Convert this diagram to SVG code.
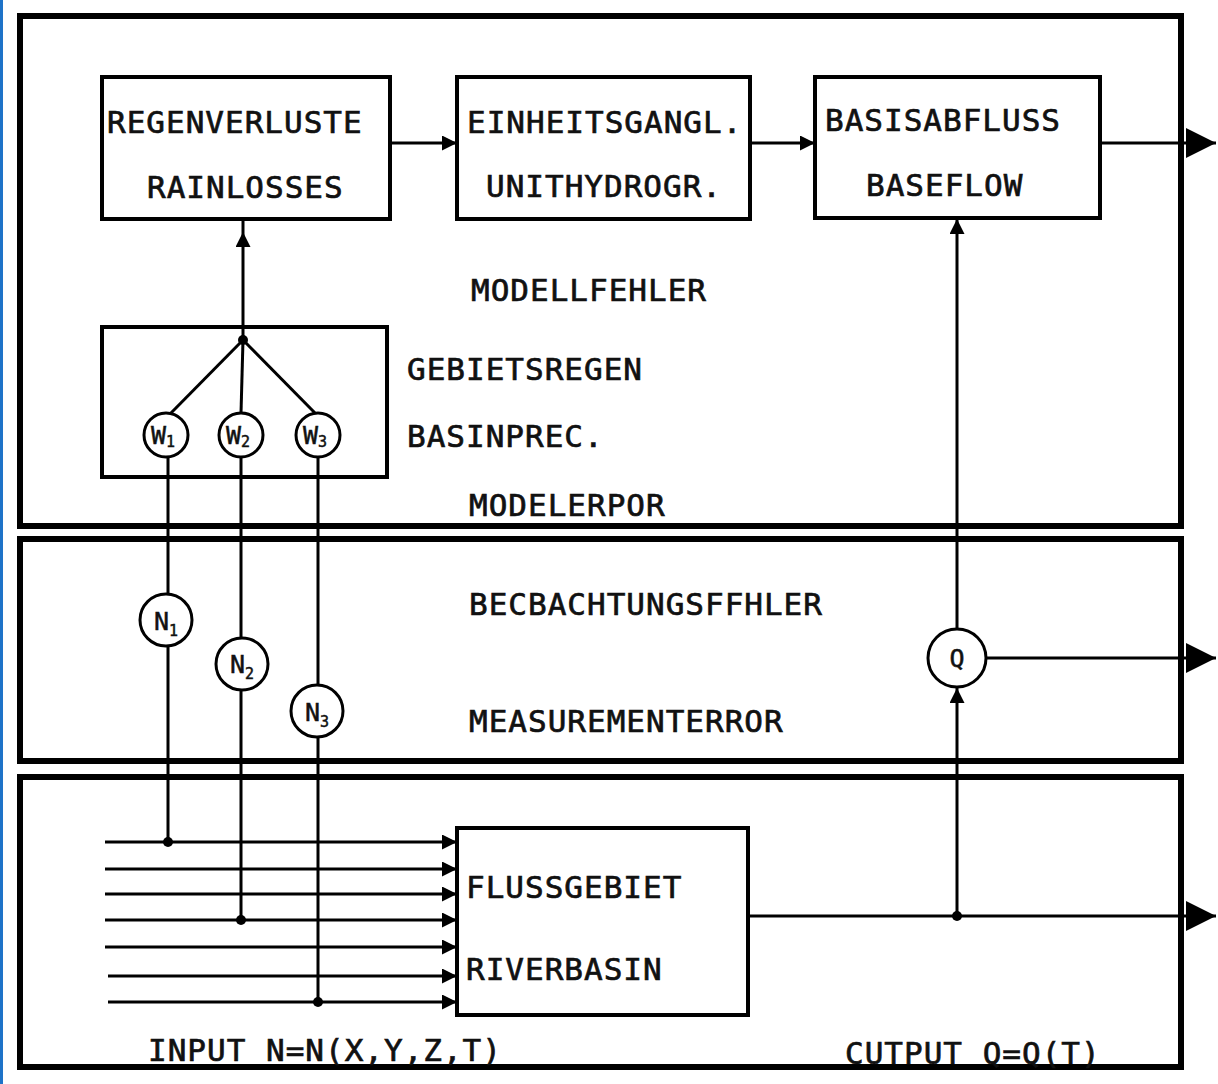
<svg xmlns="http://www.w3.org/2000/svg" width="1218" height="1084" viewBox="0 0 1218 1084">
<style>
.panel{fill:none;stroke:#000;stroke-width:6}
.box{fill:none;stroke:#000;stroke-width:4}
.ln{fill:none;stroke:#000;stroke-width:3}
.circ{fill:#fff;stroke:#000;stroke-width:3}
.t{font-family:"DejaVu Sans Mono","Liberation Mono",monospace;font-size:31px;fill:#111;stroke:#111;stroke-width:0.7;letter-spacing:1px}
.c{font-family:"DejaVu Sans Mono","Liberation Mono",monospace;font-size:25px;fill:#111;stroke:#111;stroke-width:0.5}
.s{font-size:15px}
</style>
<defs>
<marker id="ah" viewBox="0 0 10 10" refX="10" refY="5" markerWidth="7" markerHeight="5" markerUnits="strokeWidth" orient="auto"><path d="M0,0 L10,5 L0,10 z" fill="#000"/></marker>
<marker id="big" viewBox="0 0 10 10" refX="10" refY="5" markerWidth="10" markerHeight="10" markerUnits="strokeWidth" orient="auto"><path d="M0,0 L10,5 L0,10 z" fill="#000"/></marker>
</defs>
<rect x="0" y="0" width="1218" height="1084" fill="#fff"/>
<rect x="0" y="0" width="3" height="1084" fill="#1e73c8"/>
<g id="panels">
<rect class="panel" x="20" y="16" width="1161" height="510"/>
<rect class="panel" x="20" y="539" width="1161" height="222"/>
<rect class="panel" x="20" y="777" width="1161" height="290"/>
</g>
<g id="connectors">
<line class="ln" x1="390" y1="143" x2="457" y2="143" marker-end="url(#ah)"/>
<line class="ln" x1="750" y1="143" x2="815" y2="143" marker-end="url(#ah)"/>
<line class="ln" x1="1100" y1="143" x2="1216" y2="143" marker-end="url(#big)"/>
<line class="ln" x1="243" y1="340" x2="243" y2="232" marker-end="url(#ah)"/>
<line class="ln" x1="243" y1="232" x2="243" y2="219"/>
<line class="ln" x1="243" y1="340" x2="170" y2="414"/>
<line class="ln" x1="243" y1="340" x2="241" y2="413"/>
<line class="ln" x1="243" y1="340" x2="316" y2="414"/>
<circle cx="243" cy="340" r="5" fill="#000"/>
<line class="ln" x1="168" y1="457" x2="168" y2="842"/>
<line class="ln" x1="241" y1="457" x2="241" y2="920"/>
<line class="ln" x1="318" y1="457" x2="318" y2="1002"/>
<line class="ln" x1="105" y1="842" x2="457" y2="842" marker-end="url(#ah)"/>
<line class="ln" x1="105" y1="869" x2="457" y2="869" marker-end="url(#ah)"/>
<line class="ln" x1="105" y1="894" x2="457" y2="894" marker-end="url(#ah)"/>
<line class="ln" x1="105" y1="920" x2="457" y2="920" marker-end="url(#ah)"/>
<line class="ln" x1="105" y1="947" x2="457" y2="947" marker-end="url(#ah)"/>
<line class="ln" x1="108" y1="976" x2="457" y2="976" marker-end="url(#ah)"/>
<line class="ln" x1="108" y1="1002" x2="457" y2="1002" marker-end="url(#ah)"/>
<circle cx="168" cy="842" r="5" fill="#000"/>
<circle cx="241" cy="920" r="5" fill="#000"/>
<circle cx="318" cy="1002" r="5" fill="#000"/>
<line class="ln" x1="748" y1="916" x2="1216" y2="916" marker-end="url(#big)"/>
<circle cx="957" cy="916" r="5" fill="#000"/>
<line class="ln" x1="957" y1="916" x2="957" y2="688" marker-end="url(#ah)"/>
<line class="ln" x1="957" y1="628" x2="957" y2="219" marker-end="url(#ah)"/>
<line class="ln" x1="987" y1="658" x2="1216" y2="658" marker-end="url(#big)"/>
</g>
<g id="n-regen"><rect class="box" x="102" y="77" width="288" height="142"/>
<text class="t" x="107" y="133">REGENVERLUSTE</text><text class="t" x="147" y="198">RAINLOSSES</text></g>
<g id="n-einheit"><rect class="box" x="457" y="77" width="293" height="142"/>
<text class="t" x="467" y="133">EINHEITSGANGL.</text><text class="t" x="486" y="197">UNITHYDROGR.</text></g>
<g id="n-basis"><rect class="box" x="815" y="77" width="285" height="141"/>
<text class="t" x="825" y="131">BASISABFLUSS</text><text class="t" x="866" y="196">BASEFLOW</text></g>
<g id="n-gebiet"><rect class="box" x="102" y="327" width="285" height="150"/></g>
<g id="n-w1"><circle class="circ" cx="166" cy="435" r="22"/><text class="c" x="151" y="444">W<tspan class="s" dy="3">1</tspan></text></g>
<g id="n-w2"><circle class="circ" cx="241" cy="435" r="22"/><text class="c" x="226" y="444">W<tspan class="s" dy="3">2</tspan></text></g>
<g id="n-w3"><circle class="circ" cx="318" cy="435" r="22"/><text class="c" x="303" y="444">W<tspan class="s" dy="3">3</tspan></text></g>
<g id="n-n1"><circle class="circ" cx="166" cy="620" r="26"/><text class="c" x="154" y="630">N<tspan class="s" dy="6">1</tspan></text></g>
<g id="n-n2"><circle class="circ" cx="242" cy="664" r="26"/><text class="c" x="230" y="673">N<tspan class="s" dy="6">2</tspan></text></g>
<g id="n-n3"><circle class="circ" cx="317" cy="711" r="26"/><text class="c" x="305" y="721">N<tspan class="s" dy="6">3</tspan></text></g>
<g id="n-q"><circle class="circ" cx="957" cy="658" r="29"/><text class="c" x="957" y="667" text-anchor="middle">Q</text></g>
<g id="n-fluss"><rect class="box" x="457" y="828" width="291" height="187"/>
<text class="t" x="466" y="898">FLUSSGEBIET</text><text class="t" x="466" y="980">RIVERBASIN</text></g>
<g id="labels">
<text class="t" x="471" y="301">MODELLFEHLER</text>
<text class="t" x="407" y="380">GEBIETSREGEN</text>
<text class="t" x="407" y="447">BASINPREC.</text>
<text class="t" x="469" y="516">MODELERPOR</text>
<text class="t" x="469" y="615">BECBACHTUNGSFFHLER</text>
<text class="t" x="469" y="732">MEASUREMENTERROR</text>
<text class="t" x="148" y="1061">INPUT N=N(X,Y,Z,T)</text>
<text class="t" x="845" y="1064">CUTPUT Q=Q(T)</text>
</g>
</svg>
